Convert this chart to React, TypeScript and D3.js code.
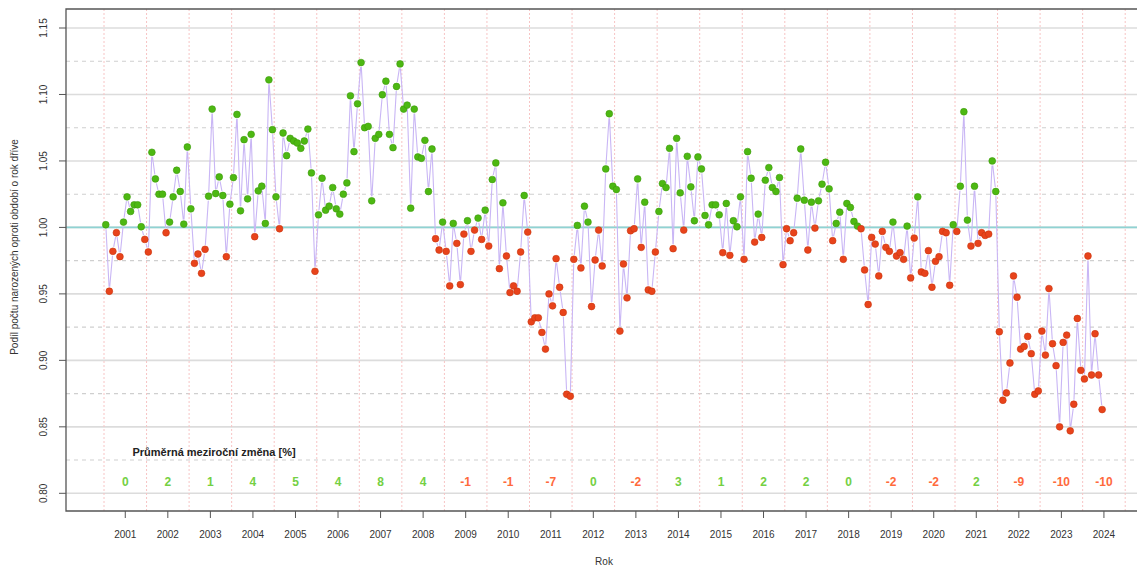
import React from 'react';
import * as d3 from 'd3';

// Poměr počtu narozených vůči stejnému měsíci předchozího roku, po letech (leden..prosinec)
const years = [2001, 2002, 2003, 2004, 2005, 2006, 2007, 2008, 2009, 2010, 2011, 2012,
  2013, 2014, 2015, 2016, 2017, 2018, 2019, 2020, 2021, 2022, 2023, 2024];

const monthlyRatio: number[][] = [
  [1.002, 0.952, 0.982, 0.996, 0.978, 1.004, 1.023, 1.012, 1.017, 1.017, 1.0005, 0.991],
  [0.9815, 1.0565, 1.0365, 1.025, 1.025, 0.996, 1.004, 1.023, 1.043, 1.027, 1.0025, 1.0605],
  [1.014, 0.973, 0.98, 0.9655, 0.9835, 1.0235, 1.089, 1.0255, 1.038, 1.024, 0.978, 1.0175],
  [1.0375, 1.085, 1.0125, 1.066, 1.0215, 1.07, 0.993, 1.0275, 1.031, 1.003, 1.111, 1.0735],
  [1.023, 0.999, 1.071, 1.054, 1.067, 1.065, 1.0635, 1.0595, 1.065, 1.074, 1.041, 0.967],
  [1.0095, 1.037, 1.013, 1.016, 1.03, 1.014, 1.01, 1.025, 1.0335, 1.099, 1.057, 1.093],
  [1.124, 1.075, 1.076, 1.02, 1.067, 1.07, 1.0998, 1.11, 1.07, 1.06, 1.106, 1.123],
  [1.089, 1.092, 1.0145, 1.089, 1.053, 1.052, 1.0655, 1.027, 1.059, 0.9915, 0.983, 1.004],
  [0.982, 0.956, 1.003, 0.988, 0.957, 0.995, 1.005, 0.982, 0.998, 1.007, 0.991, 1.013],
  [0.986, 1.036, 1.0485, 0.969, 1.0185, 0.9785, 0.951, 0.956, 0.952, 0.9815, 1.024, 0.9965],
  [0.929, 0.932, 0.932, 0.921, 0.9085, 0.95, 0.941, 0.9765, 0.955, 0.936, 0.8745, 0.873],
  [0.976, 1.0015, 0.9695, 1.016, 1.004, 0.9405, 0.9755, 0.998, 0.971, 1.044, 1.0855, 1.031],
  [1.0285, 0.922, 0.9725, 0.947, 0.9975, 0.999, 1.0365, 0.985, 1.019, 0.953, 0.952, 0.9815],
  [1.012, 1.033, 1.03, 1.0595, 0.984, 1.067, 1.026, 0.998, 1.0535, 1.0305, 1.005, 1.053],
  [1.044, 1.009, 1.002, 1.017, 1.017, 1.0095, 0.981, 1.018, 0.979, 1.005, 1.0005, 1.023],
  [0.976, 1.057, 1.037, 0.989, 1.01, 0.9925, 1.0355, 1.045, 1.03, 1.027, 1.0375, 0.972],
  [0.999, 0.99, 0.996, 1.022, 1.059, 1.0205, 0.983, 1.019, 0.9995, 1.02, 1.0325, 1.049],
  [1.029, 0.99, 1.003, 1.0115, 0.976, 1.018, 1.015, 1.0045, 1.001, 0.999, 0.968, 0.942],
  [0.9925, 0.9875, 0.9635, 0.997, 0.985, 0.982, 1.004, 0.9785, 0.981, 0.976, 1.001, 0.962],
  [0.992, 1.023, 0.9665, 0.9655, 0.9825, 0.955, 0.9745, 0.978, 0.997, 0.996, 0.9565, 1.002],
  [0.997, 1.031, 1.087, 1.0055, 0.986, 1.031, 0.988, 0.996, 0.994, 0.995, 1.05, 1.027],
  [0.9215, 0.87, 0.8755, 0.898, 0.9635, 0.9475, 0.9085, 0.9105, 0.918, 0.905, 0.8745, 0.877],
  [0.922, 0.904, 0.954, 0.9125, 0.896, 0.85, 0.9135, 0.919, 0.847, 0.867, 0.9315, 0.8925],
  [0.886, 0.9785, 0.889, 0.92, 0.889, 0.863],
];

// Průměrná meziroční změna v procentech
const annualChange = [0, 2, 1, 4, 5, 4, 8, 4, -1, -1, -7, 0, -2, 3, 1, 2, 2, 0, -2, -2, 2, -9, -10, -10];

const yTicks = [0.8, 0.85, 0.9, 0.95, 1.0, 1.05, 1.1, 1.15];
const yMinor = [0.825, 0.875, 0.925, 0.975, 1.025, 1.075, 1.125];

const W = 1137;
const H = 567;
const left = 66;
const right = 1142;
const top = 9;
const bottom = 511;
const font = '"Liberation Sans", Arial, Helvetica, sans-serif';

export default function App() {
  const x = d3.scaleLinear().domain([2001, 2025]).range([104, 104 + 24 * 42.55]);
  const y = d3.scaleLinear().domain([0.8, 1.15]).range([493.3, 28]);

  const points = monthlyRatio.flatMap((row, yi) =>
    row.map((v, m) => ({ t: years[yi] + (m + 0.5) / 12, v }))
  );
  const px = points.map(p => [x(p.t), y(p.v)]);

  // type="b": line segments with a gap around each point
  const gap = 4.5;
  const segs: string[] = [];
  for (let i = 1; i < px.length; i++) {
    const [x1, y1] = px[i - 1];
    const [x2, y2] = px[i];
    const d = Math.hypot(x2 - x1, y2 - y1);
    if (d <= 2 * gap) continue;
    const ux = (x2 - x1) / d;
    const uy = (y2 - y1) / d;
    segs.push(`M${x1 + ux * gap},${y1 + uy * gap}L${x2 - ux * gap},${y2 - uy * gap}`);
  }

  const boundaries = d3.range(2001, 2026);

  return (
    <svg width={W} height={H} style={{ position: 'absolute', left: 0, top: 0, background: '#fff' }}
      fontFamily={font}>
      <defs>
        <clipPath id="plot">
          <rect x={left} y={top} width={right - left} height={bottom - top} />
        </clipPath>
      </defs>
      <g clipPath="url(#plot)">
        {yTicks.map(t => (
          <line key={'g' + t} x1={left} x2={right} y1={y(t)} y2={y(t)} stroke="#dcdcdc" strokeWidth={1.6} />
        ))}
        {yMinor.map(t => (
          <line key={'m' + t} x1={left} x2={right} y1={y(t)} y2={y(t)} stroke="#cfcfcf" strokeWidth={1.1}
            strokeDasharray="4,4" />
        ))}
        {boundaries.map(b => (
          <line key={'v' + b} x1={x(b)} x2={x(b)} y1={top} y2={bottom} stroke="#f7c4c4" strokeWidth={1}
            strokeDasharray="2,2" />
        ))}
        <line x1={left} x2={right} y1={y(1)} y2={y(1)} stroke="#8fd3d3" strokeWidth={1.8} />
        <path d={segs.join('')} fill="none" stroke="#c9b6f5" strokeWidth={1.1} />
        {px.map(([cx, cy], i) => {
          const up = points[i].v >= 1;
          return (
            <circle key={i} cx={cx} cy={cy} r={3.4}
              fill={up ? '#4db812' : '#e8431b'} stroke={up ? '#3d9a0c' : '#c9350f'} strokeWidth={0.6} />
          );
        })}
        <text x={214} y={456} textAnchor="middle" fontSize={11} fontWeight="bold" fill="#222">
          Průměrná meziroční změna [%]
        </text>
        {annualChange.map((c, i) => (
          <text key={'c' + i} x={x(years[i] + 0.5)} y={486} textAnchor="middle" fontSize={12}
            fontWeight="bold" fill={c >= 0 ? '#74d043' : '#ff6a3c'}>
            {c}
          </text>
        ))}
      </g>
      {/* box */}
      <path d={`M${right},${top}H${left}V${bottom}H${right}`} fill="none" stroke="#555" strokeWidth={1.3} />
      {/* y axis */}
      {yTicks.map(t => (
        <g key={'yt' + t}>
          <line x1={left - 7} x2={left} y1={y(t)} y2={y(t)} stroke="#555" strokeWidth={1} />
          <text transform={`translate(${left - 19},${y(t)}) rotate(-90)`} textAnchor="middle"
            fontSize={10} fill="#333">
            {t.toFixed(2)}
          </text>
        </g>
      ))}
      {/* x axis */}
      {years.map(yr => (
        <g key={'xt' + yr}>
          <line x1={x(yr + 0.5)} x2={x(yr + 0.5)} y1={bottom} y2={bottom + 7} stroke="#555" strokeWidth={1} />
          <text x={x(yr + 0.5)} y={538} textAnchor="middle" fontSize={10} fill="#333">{yr}</text>
        </g>
      ))}
      <text x={604} y={565} textAnchor="middle" fontSize={10} fill="#333">Rok</text>
      <text transform={`translate(18,247) rotate(-90)`} textAnchor="middle" fontSize={10} fill="#333">
        Podíl počtu narozených oproti období o rok dříve
      </text>
    </svg>
  );
}
